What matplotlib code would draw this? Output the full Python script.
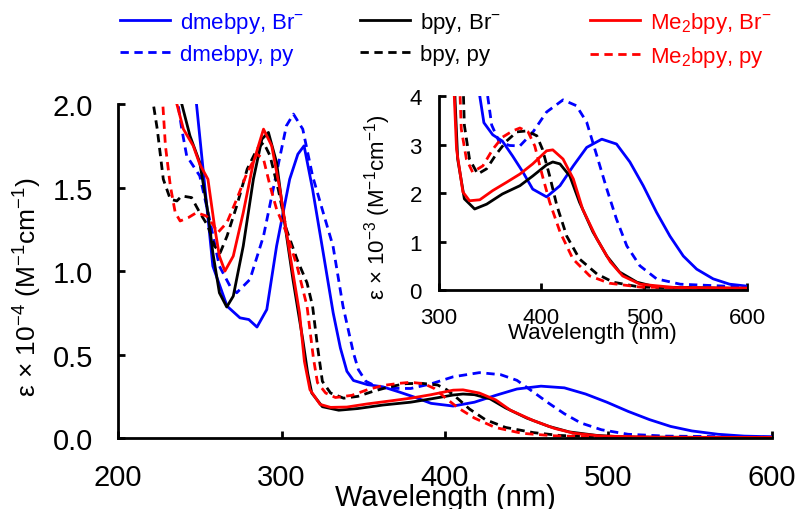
import numpy as np
import matplotlib
matplotlib.use('Agg')
import matplotlib.pyplot as plt
from matplotlib.lines import Line2D

plt.rcParams['font.family'] = ['Liberation Sans', 'DejaVu Sans']
plt.rcParams['mathtext.fontset'] = 'custom'
plt.rcParams['mathtext.rm'] = 'Liberation Sans'
plt.rcParams['mathtext.it'] = 'Liberation Sans:italic'
plt.rcParams['mathtext.bf'] = 'Liberation Sans:bold'

# absorption spectra, epsilon in 10^3 M^-1 cm^-1
DMEBPY_BR_WL = [245, 248, 258, 266.7, 274.6, 280, 285, 291, 297, 305, 310, 313.8, 319, 325.5,
                331.6, 336, 340, 344, 352.6, 362, 372, 382, 391.5, 405, 418, 431, 444, 458.7,
                473, 486, 499, 512, 525, 538, 551, 567, 583, 600]
DMEBPY_BR_EPS = [21.5, 20.0, 10.3, 7.9, 7.2, 7.1, 6.65, 7.7, 11.5, 15.5, 17.0, 17.5, 14.9, 11.1,
                 7.5, 5.4, 4.0, 3.45, 3.2, 3.07, 2.76, 2.43, 2.08, 1.92, 2.15, 2.56, 2.94, 3.11,
                 3.01, 2.64, 2.15, 1.6, 1.11, 0.7, 0.43, 0.23, 0.12, 0.08]

DMEBPY_PY_WL = [234, 236.7, 239, 242, 250, 256, 262, 268.5, 272.6, 280.7, 289, 297, 303, 307.3,
                313, 319, 325.5, 331.5, 337.6, 344, 347, 351.6, 359, 369, 379, 391.5, 405, 421,
                434, 444, 454, 463.6, 473, 483, 495.7, 512, 535, 600]
DMEBPY_PY_EPS = [21.5, 20.0, 18.5, 16.9, 15.7, 13.1, 10.3, 9.1, 8.7, 9.5, 12.1, 15.9, 18.7, 19.4,
                 18.5, 15.7, 13.5, 11.5, 7.9, 5.1, 4.1, 3.4, 3.05, 2.98, 2.97, 3.25, 3.67, 3.92,
                 3.8, 3.46, 2.76, 2.08, 1.46, 0.91, 0.5, 0.23, 0.12, 0.06]

BPY_BR_WL = [237, 239, 244, 250, 255, 258, 262, 266.5, 270.5, 276.6, 282.8, 288, 292, 297, 301,
             307, 313, 316, 318.5, 325, 335, 346.7, 362, 379, 391.5, 405, 411, 418, 427.6, 437,
             450, 463.6, 476, 493, 512, 600]
BPY_BR_EPS = [21.5, 20.0, 18.1, 16.5, 13.5, 11.1, 8.7, 7.85, 8.5, 11.5, 15.5, 17.9, 18.3, 16.5,
              13.5, 9.5, 5.9, 3.9, 2.7, 1.88, 1.67, 1.77, 1.98, 2.15, 2.35, 2.58, 2.64, 2.6,
              2.35, 1.81, 1.2, 0.7, 0.37, 0.16, 0.06, 0.03]

BPY_PY_WL = [220, 221.6, 224, 227.7, 232, 236, 239, 245, 250, 255, 259, 262.5, 266.7, 272.6, 279,
             285, 289, 293, 298, 303, 309.5, 315.6, 319, 322, 325, 330, 338, 346.7, 356, 366,
             376, 385.7, 395.5, 401, 408, 415, 424.6, 437, 454, 470, 496, 600]
BPY_PY_EPS = [21.5, 20.0, 18.5, 15.5, 14.3, 14.2, 14.5, 14.4, 13.5, 12.7, 11.5, 11.1, 12.1, 13.9,
              16.1, 17.3, 17.7, 16.9, 14.9, 12.5, 10.7, 9.3, 7.9, 5.5, 3.4, 2.7, 2.39, 2.5, 2.8,
              3.07, 3.26, 3.28, 3.18, 2.9, 2.35, 1.74, 1.11, 0.64, 0.33, 0.16, 0.06, 0.02]

ME2BPY_BR_WL = [234, 236, 240, 246, 250, 255, 259, 262, 265.4, 270.5, 276.6, 282.8, 289, 294, 299,
                305, 311, 314, 317.4, 323.6, 330, 340, 352.6, 366, 379, 391.5, 405, 411, 421, 431,
                440, 454, 467, 479, 496, 530, 600]
ME2BPY_BR_EPS = [21.5, 20.0, 18.5, 17.5, 16.4, 15.5, 12.7, 10.9, 10.0, 10.9, 13.5, 16.5, 18.5,
                 17.5, 14.9, 11.1, 7.5, 4.6, 2.9, 2.02, 1.84, 1.86, 2.05, 2.22, 2.39, 2.6, 2.87,
                 2.89, 2.7, 2.29, 1.67, 1.05, 0.58, 0.29, 0.12, 0.05, 0.04]

ME2BPY_PY_WL = [226, 227.4, 229, 232, 235, 238, 243, 248, 254, 258, 261, 266.6, 272.6, 279, 285,
                289, 293, 297, 303, 309.5, 315.6, 319.5, 322, 327, 333, 343, 352.6, 362, 372, 379,
                387, 393.5, 401, 408, 418, 430.6, 447, 466, 496, 600]
ME2BPY_PY_EPS = [21.5, 20.0, 17.5, 15.1, 13.5, 13.0, 13.2, 13.5, 13.3, 12.8, 12.3, 12.9, 14.3,
                 15.9, 17.0, 16.7, 15.1, 13.7, 12.3, 10.3, 7.9, 4.8, 3.32, 2.7, 2.43, 2.56, 2.9,
                 3.15, 3.28, 3.34, 3.26, 2.97, 2.35, 1.81, 1.2, 0.64, 0.29, 0.14, 0.06, 0.03]

SERIES = [
    (DMEBPY_BR_WL, DMEBPY_BR_EPS, 'dmebpy, Br$^{-}$', 'blue', '-'),
    (DMEBPY_PY_WL, DMEBPY_PY_EPS, 'dmebpy, py', 'blue', '--'),
    (BPY_BR_WL, BPY_BR_EPS, 'bpy, Br$^{-}$', 'black', '-'),
    (BPY_PY_WL, BPY_PY_EPS, 'bpy, py', 'black', '--'),
    (ME2BPY_BR_WL, ME2BPY_BR_EPS, 'Me$_2$bpy, Br$^{-}$', 'red', '-'),
    (ME2BPY_PY_WL, ME2BPY_PY_EPS, 'Me$_2$bpy, py', 'red', '--'),
]

LW = 2.0
DASHES = (3, 2)


def style_axes(ax, fs, pad):
    for side in ['top', 'right']:
        ax.spines[side].set_visible(False)
    for side in ['left', 'bottom']:
        ax.spines[side].set_linewidth(2.0)
    ax.tick_params(direction='in', length=5, width=2.0, labelsize=fs, pad=pad)


def draw(ax, scale):
    for wl, eps, label, color, ls in SERIES:
        line, = ax.plot(wl, np.array(eps) * scale, color=color, lw=LW, ls=ls)
        if ls == '--':
            line.set_dashes(DASHES)


fig = plt.figure(figsize=(7.99, 5.10), dpi=100)

# main axes
ax = fig.add_axes([0.1477, 0.139, 0.8185, 0.655])
draw(ax, 0.1)
ax.set_xlim(200, 600)
ax.set_ylim(0, 2.0)
ax.set_xticks([200, 300, 400, 500, 600])
ax.set_yticks([0.0, 0.5, 1.0, 1.5, 2.0])
ax.set_yticklabels(['0.0', '0.5', '1.0', '1.5', '2.0'])
style_axes(ax, 21, 18)
ax.set_xlabel('Wavelength (nm)', fontsize=21, labelpad=-6)
ax.set_ylabel('ε × 10$^{-4}$ (M$^{-1}$cm$^{-1}$)', fontsize=19)
ax.yaxis.set_label_coords(-0.113, 0.455)

# inset
axi = fig.add_axes([0.549, 0.4294, 0.386, 0.3804])
draw(axi, 1.0)
axi.set_xlim(300, 600)
axi.set_ylim(0, 4)
axi.set_xticks([300, 400, 500, 600])
axi.set_yticks([0, 1, 2, 3, 4])
style_axes(axi, 16, 12)
axi.set_xlabel('Wavelength (nm)', fontsize=16, labelpad=-4)
axi.set_ylabel('ε × 10$^{-3}$ (M$^{-1}$cm$^{-1}$)', fontsize=16)
axi.yaxis.set_label_coords(-0.149, 0.43)

# legend: three groups of two
xs = [0.150, 0.450, 0.738]
for i, x0 in enumerate(xs):
    handles = []
    for wl, eps, label, color, ls in SERIES[2 * i:2 * i + 2]:
        h = Line2D([], [], color=color, lw=LW, ls=ls, label=label)
        if ls == '--':
            h.set_dashes(DASHES)
        handles.append(h)
    leg = fig.legend(handles=handles, loc='upper left', bbox_to_anchor=(x0, 0.978),
                     frameon=False, fontsize=16, handlelength=2.25, handletextpad=0.45,
                     labelspacing=0.4, borderaxespad=0.0, borderpad=0.0)
    for text, h in zip(leg.get_texts(), handles):
        text.set_color(h.get_color())

fig.savefig('out.png', dpi=100)
